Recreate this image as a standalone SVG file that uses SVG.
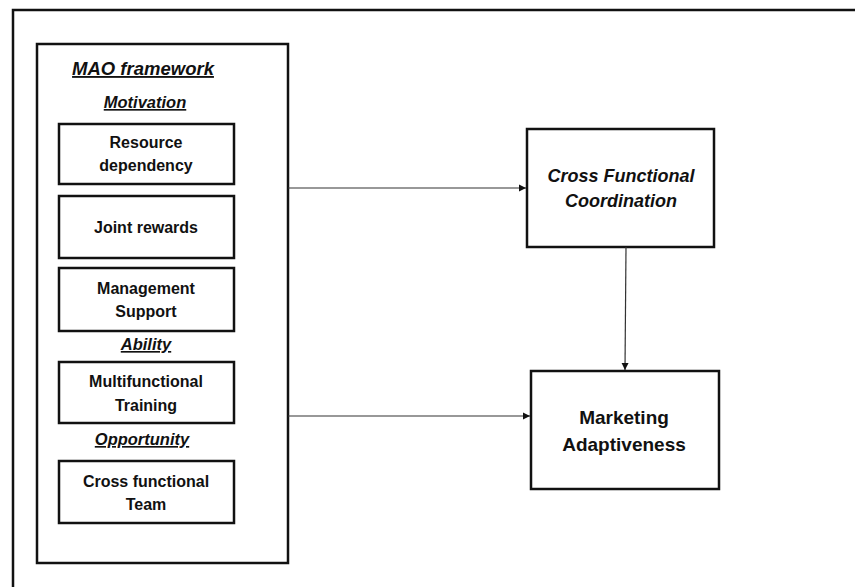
<svg xmlns="http://www.w3.org/2000/svg" width="855" height="587" viewBox="0 0 855 587">
<defs>
<style>
.box{fill:#fff;stroke:#111;stroke-width:2.5}
.t{font-family:"Liberation Sans",Arial,sans-serif;font-weight:bold;fill:#111;text-anchor:middle}
.s{font-size:16px}
.h{font-size:16.5px;font-style:italic;text-decoration:underline}
.big{font-size:18px}
.conn{stroke:#333;stroke-width:1.2;fill:none}
</style>
<marker id="ah" markerWidth="8" markerHeight="8" refX="7" refY="4" orient="auto" markerUnits="userSpaceOnUse">
<path d="M0,0.5 L7,4 L0,7.5 Z" fill="#111"/>
</marker>
</defs>
<rect width="855" height="587" fill="#fff"/>
<g id="frame">
<path d="M13,587 L13,10 L855,10" fill="none" stroke="#111" stroke-width="2.5"/>
</g>
<g id="mao">
<rect class="box" x="37" y="44" width="251" height="519"/>
<text class="t h" x="143" y="75" style="font-size:18.5px">MAO framework</text>
<text class="t h" x="145" y="108">Motivation</text>
<text class="t h" x="146" y="350">Ability</text>
<text class="t h" x="142" y="445">Opportunity</text>
</g>
<g id="resource">
<rect class="box" x="59" y="124" width="175" height="60"/>
<text class="t s" x="146" y="148">Resource</text>
<text class="t s" x="146" y="171">dependency</text>
</g>
<g id="joint">
<rect class="box" x="59" y="196" width="175" height="62"/>
<text class="t s" x="146" y="233">Joint rewards</text>
</g>
<g id="management">
<rect class="box" x="59" y="268" width="175" height="63"/>
<text class="t s" x="146" y="294">Management</text>
<text class="t s" x="146" y="317">Support</text>
</g>
<g id="training">
<rect class="box" x="59" y="362" width="175" height="61"/>
<text class="t s" x="146" y="387">Multifunctional</text>
<text class="t s" x="146" y="411">Training</text>
</g>
<g id="team">
<rect class="box" x="59" y="461" width="175" height="62"/>
<text class="t s" x="146" y="487">Cross functional</text>
<text class="t s" x="146" y="510">Team</text>
</g>
<g id="cfc">
<rect class="box" x="527" y="129" width="187" height="118"/>
<text class="t big" x="621" y="182" font-style="italic">Cross Functional</text>
<text class="t big" x="621" y="207" font-style="italic">Coordination</text>
</g>
<g id="ma">
<rect class="box" x="531" y="371" width="188" height="118"/>
<text class="t big" x="624" y="424" style="font-size:19px">Marketing</text>
<text class="t big" x="624" y="451" style="font-size:19px">Adaptiveness</text>
</g>
<g id="connectors">
<line class="conn" x1="288" y1="188" x2="526" y2="188" marker-end="url(#ah)"/>
<line class="conn" x1="626" y1="247" x2="625" y2="370" marker-end="url(#ah)"/>
<line class="conn" x1="288" y1="416" x2="530" y2="416" marker-end="url(#ah)"/>
</g>
</svg>
